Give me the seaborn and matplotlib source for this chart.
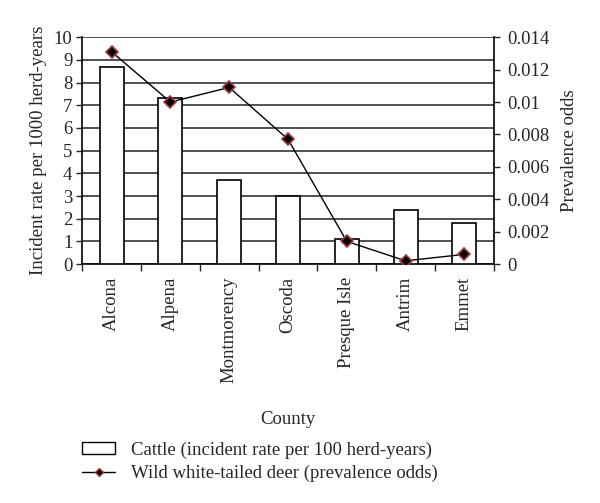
import numpy as np
import pandas as pd
import seaborn as sns
import matplotlib.pyplot as plt
from matplotlib.patches import Patch
from matplotlib.lines import Line2D

# dados
counties = ["Alcona", "Alpena", "Montmorency", "Oscoda", "Presque Isle", "Antrim", "Emmet"]
cattle = [8.7, 7.3, 3.7, 3.0, 1.1, 2.4, 1.8]
deer = [0.0131, 0.0100, 0.0109, 0.0077, 0.0014, 0.0002, 0.0006]

tabela = pd.DataFrame({"County": counties, "Cattle": cattle, "Deer": deer})

sns.set_style("white")
plt.rcParams["font.family"] = ["Liberation Serif", "DejaVu Serif"]
fs = 13.5
plt.rcParams["font.size"] = fs

fig = plt.figure(figsize=(6, 5.03), dpi=100)
ax = fig.add_axes([0.137, 0.475, 0.686, 0.451])

sns.barplot(data=tabela, x="County", y="Cattle", color="white", edgecolor="black",
            linewidth=1.2, width=0.41, ax=ax, zorder=3)
ax.set_ylim(0, 10)
ax.set_yticks(range(0, 11))
ax.set_xlim(-0.5, len(counties) - 0.5)
ax.yaxis.grid(True, color="#333333", linewidth=1.2, zorder=0)
ax.set_axisbelow(True)
ax.set_ylabel("Incident rate per 1000 herd-years", fontsize=fs, labelpad=5)
ax.set_xlabel("County", fontsize=fs, labelpad=20)
ax.set_xticks(range(len(counties)))
ax.set_xticklabels(counties, rotation=90, fontsize=fs)
ax.tick_params(axis="x", length=0, pad=9)
ax.tick_params(axis="y", length=4, width=1, direction="out", left=True, pad=3)
# ticks entre as categorias
ax.set_xticks(np.arange(-0.5, len(counties)), minor=True)
ax.tick_params(axis="x", which="minor", length=5, width=1, direction="out", bottom=True)

for s in ["top", "right"]:
    ax.spines[s].set_visible(False)
for s in ["left", "bottom"]:
    ax.spines[s].set_color("black")
    ax.spines[s].set_linewidth(1.2)

ax2 = ax.twinx()
sns.lineplot(x=np.arange(len(counties)), y=deer, ax=ax2, color="black", linewidth=1,
             marker="D", markersize=6.5, markerfacecolor="black",
             markeredgecolor="#a33a3a", markeredgewidth=1.2, zorder=5)
ax2.set_ylim(0, 0.014)
ax2.set_yticks([0, 0.002, 0.004, 0.006, 0.008, 0.01, 0.012, 0.014])
ax2.set_yticklabels(["0", "0.002", "0.004", "0.006", "0.008", "0.01", "0.012", "0.014"])
ax2.set_ylabel("Prevalence odds", fontsize=fs, labelpad=8)
ax2.tick_params(axis="y", length=4, width=1, direction="out", right=True, pad=6)
for s in ["top", "left", "bottom"]:
    ax2.spines[s].set_visible(False)
ax2.spines["right"].set_color("black")
ax2.spines["right"].set_linewidth(1.2)

handles = [
    Patch(facecolor="white", edgecolor="black", linewidth=1),
    Line2D([0], [0], color="black", linewidth=1, marker="D", markersize=4.5,
           markerfacecolor="black", markeredgecolor="#a33a3a"),
]
labels = ["Cattle (incident rate per 100 herd-years)", "Wild white-tailed deer (prevalence odds)"]
fig.legend(handles, labels, loc="upper left", bbox_to_anchor=(0.137, 0.122),
           frameon=False, fontsize=fs, handlelength=1.75, handleheight=0.6,
           handletextpad=0.85, labelspacing=0.3, borderaxespad=0, borderpad=0)

fig.savefig("out.png", dpi=100)
